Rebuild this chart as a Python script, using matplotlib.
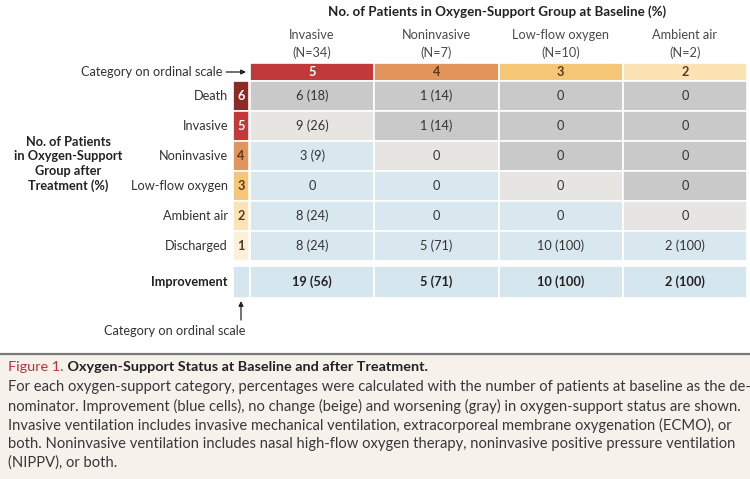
import matplotlib
matplotlib.use("Agg")
import matplotlib.pyplot as plt
from matplotlib.patches import Rectangle
import numpy as np

plt.rcParams['font.family'] = ['Lato', 'DejaVu Sans']

# baseline groups (columns) and after-treatment groups (rows)
base_groups = ['Invasive', 'Noninvasive', 'Low-flow oxygen', 'Ambient air']
base_n = [34, 7, 10, 2]
base_cat = [5, 4, 3, 2]

after_groups = ['Death', 'Invasive', 'Noninvasive', 'Low-flow oxygen', 'Ambient air', 'Discharged']
after_cat = [6, 5, 4, 3, 2, 1]

counts = np.array([[6, 1, 0, 0],
                   [9, 1, 0, 0],
                   [3, 0, 0, 0],
                   [0, 0, 0, 0],
                   [8, 0, 0, 0],
                   [8, 5, 10, 2]])
pcts = np.array([[18, 14, 0, 0],
                 [26, 14, 0, 0],
                 [9, 0, 0, 0],
                 [0, 0, 0, 0],
                 [24, 0, 0, 0],
                 [24, 71, 100, 100]])
impr_counts = [19, 5, 10, 2]
impr_pcts = [56, 71, 100, 100]

caption_title = 'Oxygen-Support Status at Baseline and after Treatment.'
caption_lines = [
    'For each oxygen-support category, percentages were calculated with the number of patients at baseline as the de-',
    'nominator. Improvement (blue cells), no change (beige) and worsening (gray) in oxygen-support status are shown.',
    'Invasive ventilation includes invasive mechanical ventilation, extracorporeal membrane oxygenation (ECMO), or',
    'both. Noninvasive ventilation includes nasal high-flow oxygen therapy, noninvasive positive pressure ventilation',
    '(NIPPV), or both.',
]

# colours
cat_colors = {6: '#8c2a25', 5: '#c2393a', 4: '#e2955a', 3: '#f5c676', 2: '#fbe3b3', 1: '#fdf0da'}
c_worse = '#c9c9c9'
c_same = '#e7e5e2'
c_better = '#d9e8ef'
c_impr = '#d6e6ee'
txt = '#333333'
fs = 9.2

# layout (pixel units of the 750x479 canvas)
x0, cw = 250, 124.25
sx0, sw = 233, 16
hy0, hh = 63, 18
ry0, rh = 81, 30
iy0, ih = 266, 32

fig = plt.figure(figsize=(7.5, 4.79), dpi=100)
ax = fig.add_axes([0, 0, 1, 1])
ax.set_xlim(0, 750)
ax.set_ylim(479, 0)
ax.axis('off')

def cell(x, y, w, h, fc):
    ax.add_patch(Rectangle((x, y), w, h, facecolor=fc, edgecolor='white', lw=1.2))

def fmt(n, p):
    return f'{n} ({p})' if n > 0 else '0'

# title and column headers
ax.text(497, 12, 'No. of Patients in Oxygen-Support Group at Baseline (%)', ha='center', va='center',
        fontsize=9.6, fontweight='bold', color='#222222')
for j, (g, n, c) in enumerate(zip(base_groups, base_n, base_cat)):
    xc = x0 + cw * (j + 0.5)
    ax.text(xc, 35, g, ha='center', va='center', fontsize=fs, color='#4a4a4a')
    ax.text(xc, 53, f'(N={n})', ha='center', va='center', fontsize=fs, color='#4a4a4a')
    cell(x0 + cw * j, hy0, cw, hh, cat_colors[c])
    ax.text(xc, hy0 + hh / 2, str(c), ha='center', va='center', fontsize=fs, fontweight='bold',
            color='white' if c >= 5 else '#5a3a20')

ax.annotate('Category on ordinal scale', xy=(246, hy0 + hh / 2), xytext=(222, hy0 + hh / 2),
            ha='right', va='center', fontsize=fs, color=txt,
            arrowprops=dict(arrowstyle='-|>', color='#222222', lw=0.9, mutation_scale=7, shrinkA=1, shrinkB=0))

# body rows
for i, (g, rc) in enumerate(zip(after_groups, after_cat)):
    y = ry0 + rh * i
    cell(sx0, y, sw, rh, cat_colors[rc])
    ax.text(sx0 + sw / 2, y + rh / 2, str(rc), ha='center', va='center', fontsize=fs, fontweight='bold',
            color='white' if rc >= 5 else '#5a3a20')
    ax.text(228, y + rh / 2, g, ha='right', va='center', fontsize=fs, color=txt)
    for j, bc in enumerate(base_cat):
        fc = c_worse if rc > bc else (c_same if rc == bc else c_better)
        cell(x0 + cw * j, y, cw, rh, fc)
        ax.text(x0 + cw * (j + 0.5), y + rh / 2, fmt(counts[i, j], pcts[i, j]),
                ha='center', va='center', fontsize=fs, color=txt)

# improvement row
cell(sx0, iy0, x0 - sx0, ih, c_impr)
ax.text(228, iy0 + ih / 2, 'Improvement', ha='right', va='center', fontsize=fs, fontweight='bold', color='#222222')
for j in range(len(base_cat)):
    cell(x0 + cw * j, iy0, cw, ih, c_impr)
    ax.text(x0 + cw * (j + 0.5), iy0 + ih / 2, fmt(impr_counts[j], impr_pcts[j]),
            ha='center', va='center', fontsize=fs, fontweight='bold', color='#222222')

ax.annotate('', xy=(241, 301), xytext=(241, 320),
            arrowprops=dict(arrowstyle='-|>', color='#222222', lw=0.9, mutation_scale=7, shrinkA=0, shrinkB=0))
ax.text(175, 331, 'Category on ordinal scale', ha='center', va='center', fontsize=fs, color=txt)

# left axis title
ax.text(68, 164, 'No. of Patients\nin Oxygen-Support\nGroup after\nTreatment (%)', ha='center', va='center',
        fontsize=9.2, fontweight='bold', color='#222222', linespacing=1.25)

# caption box
ax.add_patch(Rectangle((0, 354), 750, 125, facecolor='#f7f1ec', edgecolor='none'))
ax.plot([0, 750], [354, 354], color='#7a7a7a', lw=1.6)
t1 = ax.text(8, 367, 'Figure 1.', ha='left', va='center', fontsize=10.4, color='#b8323a')
ax.annotate(' ' + caption_title, xy=(1, 0.5), xycoords=t1, ha='left', va='center',
            fontsize=10.4, fontweight='bold', color='#222222')
for k, line in enumerate(caption_lines):
    ax.text(8, 387 + 19 * k, line, ha='left', va='center', fontsize=10.6, color='#383838')

fig.savefig('out.png', dpi=100)
